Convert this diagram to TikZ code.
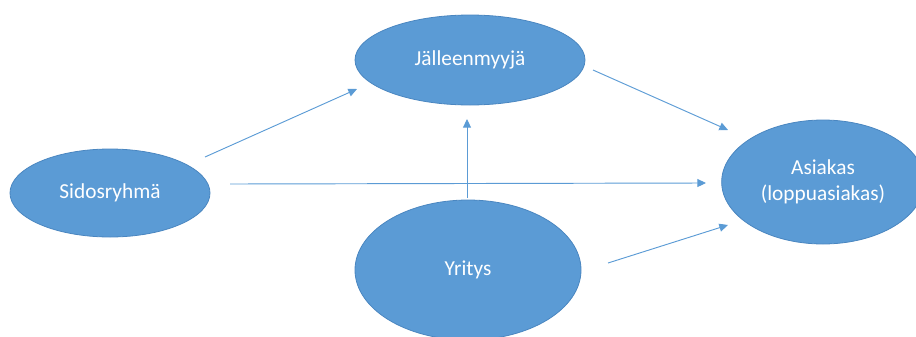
\documentclass[tikz,border=0pt]{standalone}
\usepackage{fontspec}
\setmainfont{Carlito}
\usetikzlibrary{shapes.geometric,arrows.meta}
\definecolor{fillblue}{HTML}{5B9BD5}
\definecolor{edgeblue}{HTML}{4A86C0}
\definecolor{arrowblue}{HTML}{5B9BD5}
\tikzset{
  ell/.style={ellipse, fill=fillblue, draw=edgeblue, line width=0.6pt, inner sep=0pt,
    text=white, font=\fontsize{16}{19.5}\selectfont, align=center},
  conn/.style={draw=arrowblue, line width=0.7pt, -{Triangle[length=6.5pt,width=6pt]}}
}
\begin{document}
\begin{tikzpicture}[x=0.75pt,y=-0.75pt]
\useasboundingbox (0,0) rectangle (916,336);
\node[ell, minimum width=172.5pt, minimum height=67.5pt] (jm) at (470,60) {Jälleenmyyjä};
\node[ell, minimum width=150pt, minimum height=66pt] (sr) at (110,193) {Sidosryhmä};
\node[ell, minimum width=152pt, minimum height=93pt] (as) at (823,182) {Asiakas\\(loppuasiakas)};
\node[ell, minimum width=169.5pt, minimum height=105pt] (yr) at (468,270) {Yritys};
\coordinate (a1s) at (205,157); \coordinate (a1e) at (357,89);
\coordinate (a2s) at (230,184); \coordinate (a2e) at (706,183);
\coordinate (a3s) at (467,198); \coordinate (a3e) at (467,119);
\coordinate (a4s) at (593,70);  \coordinate (a4e) at (728,130);
\coordinate (a5s) at (608,263); \coordinate (a5e) at (728,225);
\draw[conn] (a1s) -- (a1e);
\draw[conn] (a2s) -- (a2e);
\draw[conn] (a3s) -- (a3e);
\draw[conn] (a4s) -- (a4e);
\draw[conn] (a5s) -- (a5e);
\end{tikzpicture}
\end{document}
